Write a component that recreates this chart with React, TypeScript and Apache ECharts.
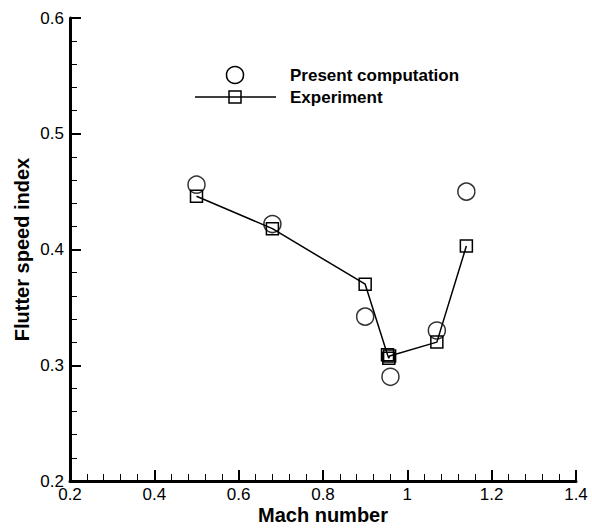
import React, { useEffect, useRef } from "react";
import * as echarts from "echarts";

const computationMach = [0.5, 0.68, 0.9, 0.96, 1.07, 1.14];
const computationIndex = [0.456, 0.422, 0.342, 0.29, 0.33, 0.45];

const experimentMach = [0.5, 0.68, 0.9, 0.953, 0.956, 0.958, 1.07, 1.14];
const experimentIndex = [0.446, 0.418, 0.37, 0.309, 0.306, 0.308, 0.32, 0.403];

const legendLabels = ["Present computation", "Experiment"];

const FONT = "'Liberation Sans', Arial, Helvetica, sans-serif";

export default function App() {
  const ref = useRef<HTMLDivElement>(null);

  useEffect(() => {
    if (!ref.current) return;
    const chart = echarts.init(ref.current, null, { renderer: "svg" });

    const axisCommon = {
      axisLine: { show: true, onZero: false, lineStyle: { color: "#000", width: 3 } },
      axisTick: { show: true, inside: true, length: 11, lineStyle: { color: "#000", width: 2 } },
      minorTick: { show: true, splitNumber: 5, length: 7, lineStyle: { color: "#000", width: 1 } },
      splitLine: { show: false },
      minorSplitLine: { show: false },
      axisLabel: { color: "#000", fontSize: 17, fontFamily: FONT, margin: 5 },
      nameTextStyle: { color: "#000", fontSize: 20, fontWeight: "bold", fontFamily: FONT },
      nameLocation: "middle" as const,
      nameMoveOverlap: false,
    };

    chart.setOption({
      animation: false,
      backgroundColor: "#fff",
      grid: {
        left: 70,
        right: 16,
        top: 18,
        bottom: 48,
        containLabel: false,
        outerBoundsMode: "none",
      },
      xAxis: {
        type: "value",
        min: 0.2,
        max: 1.4,
        interval: 0.2,
        name: "Mach number",
        nameGap: 24,
        ...axisCommon,
      },
      yAxis: {
        type: "value",
        min: 0.2,
        max: 0.6,
        interval: 0.1,
        name: "Flutter speed index",
        nameGap: 38,
        ...axisCommon,
        axisLabel: { ...axisCommon.axisLabel, margin: 6 },
      },
      series: [
        {
          name: legendLabels[1],
          type: "line",
          data: experimentMach.map((x, i) => [x, experimentIndex[i]]),
          symbol: "rect",
          symbolSize: 12,
          showAllSymbol: true,
          lineStyle: { color: "#000", width: 1.5 },
          itemStyle: { color: "rgba(0,0,0,0)", borderColor: "#000", borderWidth: 1.5 },
          z: 3,
        },
        {
          name: legendLabels[0],
          type: "scatter",
          data: computationMach.map((x, i) => [x, computationIndex[i]]),
          symbol: "circle",
          symbolSize: 17,
          itemStyle: { color: "rgba(0,0,0,0)", borderColor: "#000", borderWidth: 1.5 },
          z: 4,
        },
      ],
      graphic: [
        {
          type: "circle",
          shape: { cx: 235, cy: 75, r: 8.5 },
          style: { fill: "none", stroke: "#000", lineWidth: 1.5 },
        },
        {
          type: "line",
          shape: { x1: 195, y1: 97, x2: 276, y2: 97 },
          style: { stroke: "#000", lineWidth: 1.5 },
        },
        {
          type: "rect",
          shape: { x: 229, y: 91, width: 12, height: 12 },
          style: { fill: "none", stroke: "#000", lineWidth: 1.5 },
        },
        {
          type: "text",
          x: 290,
          y: 75,
          style: {
            text: legendLabels[0],
            fill: "#000",
            font: `bold 17px ${FONT}`,
            verticalAlign: "middle",
            align: "left",
          },
        },
        {
          type: "text",
          x: 290,
          y: 97,
          style: {
            text: legendLabels[1],
            fill: "#000",
            font: `bold 17px ${FONT}`,
            verticalAlign: "middle",
            align: "left",
          },
        },
      ],
    });

    return () => chart.dispose();
  }, []);

  return <div ref={ref} style={{ width: 592, height: 529, position: "absolute", left: 0, top: 0 }} />;
}
